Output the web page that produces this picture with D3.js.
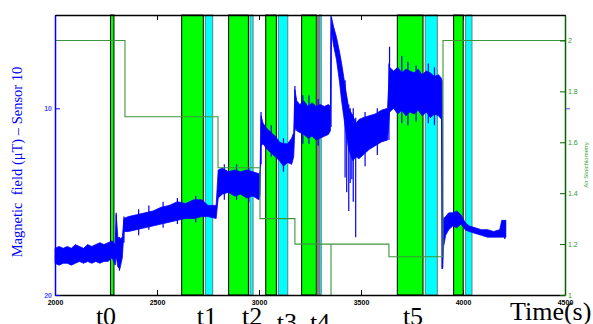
<!DOCTYPE html>
<html>
<head>
<meta charset="utf-8">
<script src="https://cdn.jsdelivr.net/npm/d3@7"></script>
<style>
  body { margin: 0; background: #fff; }
  svg { display: block; }
</style>
</head>
<body>
<div id="chart"></div>
<script>
// Constants
const WIDTH = 593;
const HEIGHT = 324;
const LEFT = 55;
const RIGHT = 565;
const TOP = 15;
const BOTTOM = 295;

// Data
const xTicks = [2000, 2500, 3000, 3500, 4000, 4500];
const fieldTicks = [10, 20];
const stoichTicks = [1, 1.2, 1.4, 1.6, 1.8, 2];

const eventLabels = ['t0', 't1', 't2', 't3', 't4', 't5'];
const eventLabelT = [2250, 2745, 2966, 3137, 3299, 3755];

const greenStart = [2272, 2621, 2851, 3033, 3209, 3678, 3954];
const greenEnd = [2289, 2727, 2948, 3085, 3281, 3804, 4001];
const cyanStart = [null, 2737, 2956, 3095, 3297, 3815, 4013];
const cyanEnd = [null, 2773, 2971, 3141, 3305, 3874, 4044];
const grayStart = [3283];
const grayEnd = [3294];

// air stoichiometry (step signal)
const stoichT = [2000, 2343, 2799, 3005, 3176, 3353, 3353, 3637, 3902, 4500];
const stoichV = [2.0, 1.7, 1.5, 1.3, 1.2, 1.0, 1.2, 1.15, 2.0, 2.0];

// magnetic field envelope (upper / lower edge of the noisy trace)
const fieldT = [2000, 2020, 2040, 2060, 2080, 2100, 2120, 2140, 2160, 2180, 2200, 2220, 2240, 2260, 2280, 2295,
  2300, 2308, 2318, 2330, 2338, 2360, 2400, 2440, 2480, 2520, 2560, 2600, 2640, 2680, 2720, 2750, 2790,
  2800, 2820, 2850, 2880, 2910, 2940, 2970, 3000, 3005,
  3010, 3020, 3040, 3060, 3080, 3100, 3120, 3140, 3160, 3170,
  3176, 3185, 3200, 3220, 3240, 3260, 3280, 3300, 3320, 3340, 3350,
  3355, 3365, 3380, 3395, 3405, 3415, 3425, 3440, 3460, 3476, 3490, 3510, 3540, 3570, 3600, 3630,
  3640, 3660, 3680, 3700, 3720, 3740, 3760, 3780, 3800, 3820, 3840, 3860, 3880, 3895,
  3900, 3905, 3915, 3930, 3950, 3970, 3990, 4010, 4030, 4060, 4090, 4120, 4150, 4180, 4190, 4210];
const fieldTop = [17.5, 17.4, 17.5, 17.4, 17.5, 17.3, 17.4, 17.5, 17.3, 17.4, 17.3, 17.2, 17.3, 17.2, 17.1, 17.3,
  15.7, 16.9, 17.0, 16.9, 15.9, 15.8, 15.7, 15.6, 15.5, 15.3, 15.2, 15.0, 15.1, 14.9, 14.9, 15.2, 15.2,
  13.3, 13.2, 13.4, 13.3, 13.4, 13.3, 13.4, 13.5, 13.4,
  10.4, 10.8, 11.1, 11.3, 11.5, 11.8, 11.9, 11.9, 11.6, 11.3,
  9.0, 9.6, 9.8, 9.6, 9.9, 9.7, 9.9, 9.8, 9.9, 9.8, 9.9,
  5.1, 5.6, 6.2, 7.0, 7.6, 8.3, 9.0, 10.0, 10.4, 10.8, 10.6, 10.5, 10.4, 10.3, 10.1, 10.0,
  7.8, 8.0, 7.8, 8.1, 7.9, 8.0, 8.1, 7.9, 8.2, 8.0, 8.1, 8.3, 8.2, 8.4,
  15.8, 15.9, 15.8, 15.6, 15.6, 15.5, 15.7, 16.1, 16.3, 16.4, 16.5, 16.5, 16.6, 16.5, 16.0, 16.0];
const fieldBottom = [18.3, 18.4, 18.3, 18.3, 18.4, 18.3, 18.2, 18.3, 18.2, 18.3, 18.2, 18.3, 18.2, 18.2, 18.0, 18.4,
  17.9, 18.5, 18.6, 18.0, 16.6, 16.6, 16.5, 16.4, 16.3, 16.2, 16.1, 16.0, 15.9, 15.9, 15.8, 15.8, 15.9,
  14.8, 14.6, 14.5, 14.7, 14.6, 14.8, 14.7, 14.9, 14.6,
  12.0, 11.9, 12.2, 12.4, 12.6, 12.8, 13.1, 12.9, 13.0, 12.6,
  11.0, 11.2, 11.3, 11.4, 11.6, 11.5, 11.7, 11.6, 11.5, 11.4, 11.2,
  5.8, 6.6, 7.4, 8.6, 9.6, 10.4, 11.2, 12.2, 12.8, 12.6, 12.7, 12.5, 12.2, 12.0, 11.8, 11.7,
  10.2, 10.0, 10.3, 10.1, 10.4, 10.2, 10.3, 10.1, 10.4, 10.2, 10.5, 10.3, 10.4, 10.6,
  18.6, 17.4, 16.8, 16.5, 16.3, 16.4, 16.2, 16.5, 16.6, 16.7, 16.8, 16.9, 16.9, 16.9, 16.9, 16.9];

// isolated spikes: time, upper value, lower value
const spikeT = [2300, 2316, 2338, 2410, 2460, 2530, 2600, 2690, 2830, 2890, 2950, 3010, 3060, 3120, 3176,
  3215, 3245, 3290, 3353, 3422, 3430, 3440, 3447, 3455, 3462, 3474, 3520, 3580,
  3637, 3640, 3700, 3730, 3770, 3830, 3860, 3897, 4205];
const spikeTop = [15.6, 16.9, 15.8, 15.4, 15.2, 15.0, 14.8, 14.7, 13.0, 13.0, 13.2, 10.2, 10.9, 11.6, 8.8,
  9.3, 9.3, 9.5, 5.0, 8.5, 9.5, 9.8, 10.0, 10.3, 10.0, 10.5, 10.2, 10.0,
  7.6, 6.7, 7.2, 7.5, 7.7, 7.6, 7.8, 8.5, 16.0];
const spikeBottom = [18.0, 18.7, 17.2, 16.8, 16.5, 16.4, 16.2, 16.1, 14.9, 14.9, 15.0, 13.0, 12.6, 13.4, 11.2,
  11.9, 11.9, 12.0, 11.0, 13.7, 14.5, 15.5, 14.0, 13.8, 15.0, 16.9, 13.1, 12.5,
  11.7, 10.2, 10.8, 10.9, 10.7, 10.8, 10.9, 18.6, 17.0];

// Scales
const x = d3.scaleLinear([2000, 4500], [LEFT, RIGHT]);
const yField = d3.scaleLinear([20, 5], [BOTTOM, TOP]);
const yStoich = d3.scaleLinear([1, 2.1], [BOTTOM, TOP]);

const svg = d3.select('#chart')
  .append('svg')
  .attr('width', WIDTH)
  .attr('height', HEIGHT)
  .style('font-family', 'Liberation Sans, Arial, sans-serif');

svg.append('rect').attr('width', WIDTH).attr('height', HEIGHT).attr('fill', '#fff');

// Event bands
const bands = svg.append('g');
greenStart.forEach((s, i) => {
  bands.append('rect')
    .attr('x', x(s))
    .attr('y', TOP)
    .attr('width', x(greenEnd[i]) - x(s))
    .attr('height', BOTTOM - TOP)
    .attr('fill', '#00ff00')
    .attr('stroke', '#000')
    .attr('stroke-width', 1);
  if (cyanStart[i] != null) {
    bands.append('rect')
      .attr('x', x(cyanStart[i]))
      .attr('y', TOP)
      .attr('width', x(cyanEnd[i]) - x(cyanStart[i]))
      .attr('height', BOTTOM - TOP)
      .attr('fill', '#00ffff')
      .attr('stroke', '#5f7f7f')
      .attr('stroke-width', 1);
  }
});
grayStart.forEach((s, i) => {
  bands.append('rect')
    .attr('x', x(s))
    .attr('y', TOP)
    .attr('width', x(grayEnd[i]) - x(s))
    .attr('height', BOTTOM - TOP)
    .attr('fill', '#808080');
});

// Magnetic field trace
const field = fieldT.map((t, i) => ({ t, top: fieldTop[i], bottom: fieldBottom[i] }));
const area = d3.area()
  .x(d => x(d.t))
  .y0(d => yField(d.bottom))
  .y1(d => yField(d.top));
svg.append('path')
  .datum(field)
  .attr('d', area)
  .attr('fill', '#0000ff')
  .attr('stroke', '#0000ff')
  .attr('stroke-width', 0.8);

svg.append('g')
  .selectAll('line')
  .data(spikeT.map((t, i) => ({ t, top: spikeTop[i], bottom: spikeBottom[i] })))
  .enter()
  .append('line')
  .attr('x1', d => x(d.t))
  .attr('x2', d => x(d.t))
  .attr('y1', d => yField(d.top))
  .attr('y2', d => yField(d.bottom))
  .attr('stroke', '#0000ff')
  .attr('stroke-width', 1.2);

// Air stoichiometry step line
const stoich = stoichT.map((t, i) => ({ t, v: stoichV[i] }));
svg.append('path')
  .datum(stoich)
  .attr('d', d3.line().x(d => x(d.t)).y(d => yStoich(d.v)).curve(d3.curveStepAfter))
  .attr('fill', 'none')
  .attr('stroke', '#3c963c')
  .attr('stroke-width', 1.1);

// Axes
const xAxis = svg.append('g')
  .attr('transform', `translate(0, ${BOTTOM})`)
  .call(d3.axisBottom(x).tickValues(xTicks).tickSizeInner(-5).tickSizeOuter(0)
    .tickPadding(5).tickFormat(d3.format('d')));
xAxis.selectAll('text').attr('font-size', 7).attr('font-weight', 'bold').attr('fill', '#000');
xAxis.select('.domain').attr('stroke', '#000').attr('stroke-width', 1.3);

const topAxis = svg.append('g')
  .attr('transform', `translate(0, ${TOP})`)
  .call(d3.axisTop(x).tickValues(xTicks).tickSizeInner(-5).tickSizeOuter(0).tickFormat(''));
topAxis.select('.domain').attr('stroke', '#000').attr('stroke-width', 1.3);

const leftAxis = svg.append('g')
  .attr('transform', `translate(${LEFT}, 0)`)
  .call(d3.axisLeft(yField).tickValues(fieldTicks).tickSizeInner(-5).tickSizeOuter(0).tickPadding(3));
leftAxis.selectAll('line, .domain').attr('stroke', '#0000ff');
leftAxis.select('.domain').attr('stroke-width', 1.5);
leftAxis.selectAll('text').attr('font-size', 7).attr('font-weight', 'bold').attr('fill', '#4d4dff');

const rightAxis = svg.append('g')
  .attr('transform', `translate(${RIGHT}, 0)`)
  .call(d3.axisRight(yStoich).tickValues(stoichTicks).tickSizeInner(-5).tickSizeOuter(0)
    .tickPadding(3).tickFormat(d3.format('')));
rightAxis.selectAll('line, .domain').attr('stroke', '#006400');
rightAxis.select('.domain').attr('stroke-width', 1.5);
rightAxis.selectAll('text').attr('font-size', 7).attr('fill', '#2e9a2e');

svg.append('g')
  .attr('transform', `translate(${RIGHT + 1}, 0)`)
  .call(d3.axisRight(yField).tickValues([10]).tickSizeInner(4).tickSizeOuter(0).tickFormat(''))
  .call(g => g.select('.domain').remove())
  .selectAll('line').attr('stroke', '#4d4dff');

// Axis titles
svg.append('text')
  .attr('transform', `translate(22, 162) rotate(-90)`)
  .attr('text-anchor', 'middle')
  .attr('font-family', 'Liberation Serif, Times New Roman, serif')
  .attr('font-size', 14.5)
  .attr('fill', '#0000ff')
  .attr('xml:space', 'preserve')
  .text('Magnetic  field (\u03bcT) \u2013 Sensor 10');

svg.append('text')
  .attr('transform', `translate(588, 165) rotate(-90)`)
  .attr('text-anchor', 'middle')
  .attr('font-size', 6)
  .attr('fill', '#2e9a2e')
  .text('Air Stoichiometry');

// Event labels
const lowered = new Set(['t3', 't4']);
svg.append('g')
  .selectAll('text')
  .data(eventLabels.map((label, i) => ({ label, t: eventLabelT[i] })))
  .enter()
  .append('text')
  .attr('x', d => x(d.t))
  .attr('y', d => (lowered.has(d.label) ? 331 : 325))
  .attr('text-anchor', 'middle')
  .attr('font-family', 'Liberation Serif, Times New Roman, serif')
  .attr('font-size', 26)
  .attr('fill', '#000')
  .text(d => d.label);

svg.append('text')
  .attr('x', 510)
  .attr('y', 320)
  .attr('font-family', 'Liberation Serif, Times New Roman, serif')
  .attr('font-size', 26)
  .attr('fill', '#000')
  .text('Time(s)');
</script>
</body>
</html>
